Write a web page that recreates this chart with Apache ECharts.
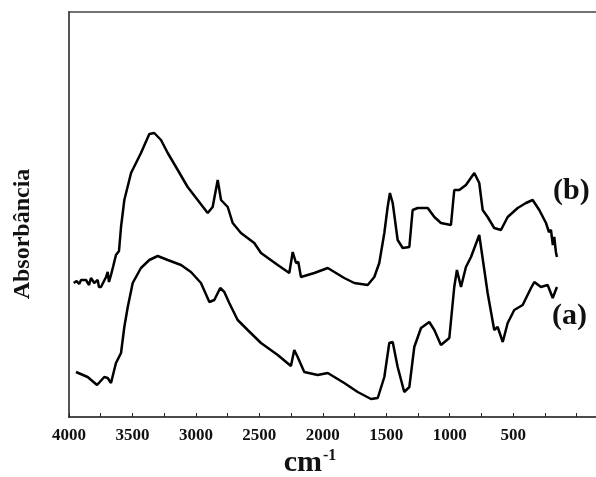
<!DOCTYPE html>
<html><head><meta charset="utf-8">
<script src="https://cdn.jsdelivr.net/npm/echarts@6/dist/echarts.min.js"></script>
<style>html,body{margin:0;padding:0;background:#fff}#c{width:596px;height:477px}</style>
</head><body><div id="c"></div>
<script>
// Wavenumbers (cm-1) and absorbance (arbitrary units)
const wnB = [3963,3940,3920,3905,3890,3866,3842,3827,3801,3774,3764,3748,3734,3708,3695,3685,3669,3653,3630,3606,3590,3564,3511,3433,3367,3328,3275,3222,3143,3065,2986,2907,2868,2828,2802,2749,2710,2645,2540,2487,2355,2264,2237,2211,2193,2172,2067,1961,1935,1831,1752,1646,1594,1555,1515,1489,1471,1449,1410,1370,1318,1292,1252,1173,1121,1069,990,964,924,872,806,767,740,701,649,596,543,464,399,346,294,241,218,202,187,176,163,155];
const absB = [1.34,1.36,1.33,1.37,1.38,1.37,1.32,1.39,1.34,1.37,1.30,1.30,1.28,1.40,1.45,1.35,1.42,1.50,1.62,1.66,1.90,2.17,2.44,2.64,2.83,2.84,2.77,2.64,2.47,2.30,2.17,2.04,2.10,2.37,2.17,2.10,1.94,1.84,1.74,1.64,1.52,1.44,1.65,1.54,1.55,1.40,1.44,1.49,1.47,1.39,1.34,1.32,1.40,1.54,1.84,2.10,2.24,2.14,1.77,1.69,1.70,2.07,2.09,2.09,2.00,1.94,1.92,2.27,2.27,2.32,2.44,2.34,2.07,2.00,1.89,1.87,2.00,2.09,2.14,2.17,2.07,1.94,1.85,1.87,1.72,1.80,1.65,1.60];
const wnA = [3945,3853,3779,3722,3695,3669,3630,3590,3564,3537,3498,3433,3367,3301,3222,3117,3039,2960,2894,2855,2808,2776,2737,2671,2592,2487,2355,2251,2225,2198,2146,2040,1961,1935,1857,1831,1725,1620,1567,1515,1476,1449,1410,1358,1318,1279,1226,1161,1121,1069,1003,964,943,911,872,832,767,727,701,649,622,582,543,491,425,359,333,281,228,188,155];
const absA = [0.45,0.40,0.32,0.40,0.39,0.34,0.54,0.64,0.90,1.10,1.34,1.49,1.57,1.61,1.57,1.52,1.45,1.34,1.15,1.17,1.29,1.25,1.14,0.97,0.87,0.74,0.62,0.51,0.67,0.60,0.45,0.42,0.44,0.42,0.36,0.34,0.25,0.18,0.19,0.40,0.74,0.75,0.50,0.25,0.30,0.70,0.89,0.95,0.87,0.72,0.79,1.30,1.47,1.30,1.50,1.60,1.82,1.47,1.24,0.87,0.90,0.75,0.94,1.07,1.12,1.29,1.35,1.30,1.32,1.19,1.30];
const xTicks = [4000,3500,3000,2500,2000,1500,1000,500];
const xMinorTicks = [4000,3750,3500,3250,3000,2750,2500,2250,2000,1750,1500,1250,1000,750,500,250,0];
const seriesNames = ['(b)','(a)'];

const serif = '"Liberation Serif","DejaVu Serif",serif';
const chart = echarts.init(document.getElementById('c'), null, {renderer:'canvas'});
const zip = (xs, ys) => xs.map((x,i)=>[x, ys[i]]);
chart.setOption({
  animation:false,
  grid:{left:69, right:0, top:12, bottom:60, show:false},
  xAxis:[{
    type:'value', inverse:true, min:-153, max:4000,
    axisLine:{show:true, onZero:false, lineStyle:{color:'#111', width:1.5}},
    axisTick:{show:true, inside:true, length:4, customValues:xMinorTicks, lineStyle:{color:'#222', width:1}},
    axisLabel:{color:'#111', fontFamily:serif, fontWeight:'bold', fontSize:17, margin:10, customValues:xTicks,
      formatter:v => String(v)},
    splitLine:{show:false}
  },{
    type:'value', position:'top', inverse:true, min:-153, max:4000,
    axisLine:{show:true, onZero:false, lineStyle:{color:'#444', width:1.5}},
    axisTick:{show:false}, axisLabel:{show:false}, splitLine:{show:false}
  }],
  yAxis:{
    type:'value', min:0, max:4.05,
    axisLine:{show:true, onZero:false, lineStyle:{color:'#555', width:2}},
    axisTick:{show:false}, axisLabel:{show:false}, splitLine:{show:false}
  },
  series:[
    {name:seriesNames[0], type:'line', data:zip(wnB, absB), showSymbol:false, lineStyle:{color:'#000', width:2.5}, z:3},
    {name:seriesNames[1], type:'line', data:zip(wnA, absA), showSymbol:false, lineStyle:{color:'#000', width:2.5}, z:3}
  ],
  graphic:[
    {type:'text', left:553, top:176, style:{text:seriesNames[0], font:'bold 30px '+serif, fill:'#111'}},
    {type:'text', left:552, top:301, style:{text:seriesNames[1], font:'bold 30px '+serif, fill:'#111'}},
    {type:'text', x:23, y:234, rotation:Math.PI/2,
     style:{text:'Absorbância', font:'bold 24px '+serif, fill:'#111', align:'center', verticalAlign:'middle'}},
    {type:'text', x:310, y:463,
     style:{text:'{a|cm}{b|-1}', align:'center', verticalAlign:'middle',
       rich:{a:{font:'bold 30px '+serif, fill:'#111', color:'#111'},
             b:{font:'bold 16px '+serif, fill:'#111', color:'#111', verticalAlign:'top', padding:[0,0,14,1]}}}}
  ]
});
</script></body></html>
